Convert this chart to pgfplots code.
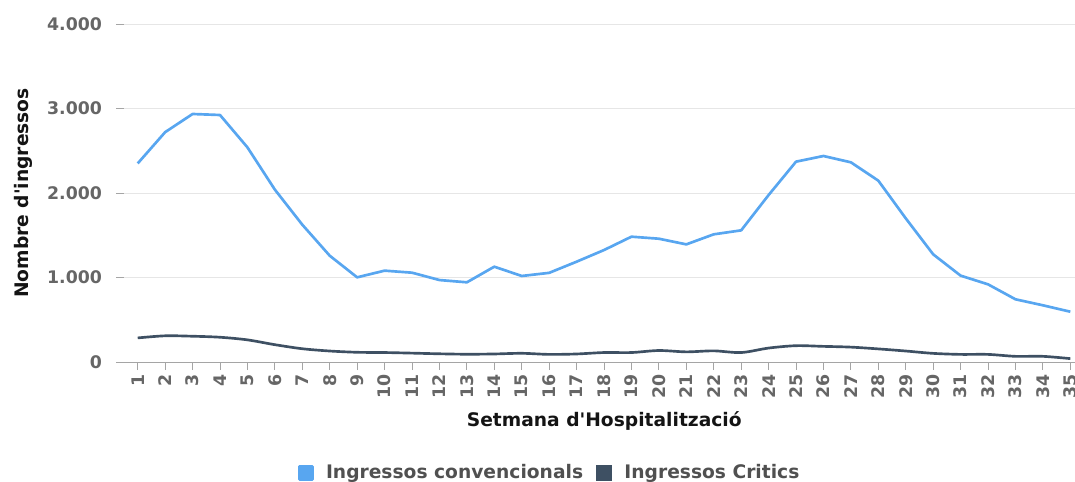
\documentclass[border=0pt]{standalone}
\usepackage{fontspec}
\setmainfont{DejaVu Sans}
\usepackage{pgfplots}
\pgfplotsset{compat=1.18}
\definecolor{conv}{RGB}{88,166,240}
\definecolor{crit}{RGB}{62,80,99}
\definecolor{tickgray}{RGB}{102,102,102}
\definecolor{gridgray}{RGB}{230,230,230}
\definecolor{axgray}{RGB}{165,165,165}
\definecolor{legtext}{RGB}{80,80,80}
\definecolor{titletext}{RGB}{20,20,20}

\pgfplotstableread{
w conv crit
1 2350 285
2 2720 310
3 2935 305
4 2923 293
5 2540 262
6 2040 205
7 1625 157
8 1258 130
9 1002 115
10 1081 112
11 1057 105
12 970 97
13 943 92
14 1128 95
15 1018 103
16 1055 90
17 1187 95
18 1325 112
19 1483 112
20 1459 136
21 1392 120
22 1511 132
23 1558 112
24 1976 165
25 2371 193
26 2438 185
27 2363 176
28 2146 155
29 1700 130
30 1274 102
31 1022 90
32 919 90
33 742 67
34 671 67
35 595 40
}\datatable

\begin{document}
\begin{tikzpicture}
\begin{axis}[
  scale only axis, width=713.25pt, height=253.5pt,
  xmin=0.5, xmax=35.17, ymin=0, ymax=4000,
  axis lines*=left,
  y axis line style={draw=none},
  x axis line style={draw=axgray, line width=0.75pt},
  tick align=outside,
  major tick length=6pt,
  tick style={draw=axgray, line width=0.75pt},
  xtick={1,...,35},
  ytick={0,1000,2000,3000,4000},
  ymajorgrids, grid style={gridgray, line width=0.75pt},
  scaled y ticks=false,
  yticklabel={\pgfmathprintnumber[assume math mode=true,1000 sep={.}]{\tick}},
  xticklabel={\pgfmathprintnumber[assume math mode=true]{\tick}},
  every tick label/.append style={font=\fontsize{13}{15}\selectfont\bfseries, text=tickgray},
  every axis x label/.style={at={(axis description cs:0.505,0)}, anchor=center, yshift=-44.5pt, font=\fontsize{14}{16}\selectfont\bfseries, text=titletext},
  every axis y label/.style={at={(axis description cs:0,0.5)}, xshift=-75.75pt, anchor=center, rotate=90, font=\fontsize{14}{16}\selectfont\bfseries, text=titletext},
  xlabel={Setmana d\textquotesingle Hospitalització},
  ylabel={Nombre d\textquotesingle ingressos},
  legend style={at={(axis description cs:0.448,-0.328)}, anchor=center, draw=none, fill=none,
    legend columns=2, font=\fontsize{14}{16}\selectfont\bfseries, text=legtext,
    /tikz/every even column/.append style={column sep=8pt}},
  legend cell align=left,
  every x tick label/.append style={rotate=90, anchor=east},
  every y tick label/.append style={xshift=-7pt},
]
\addplot[conv, line width=2pt, line join=round,
  legend image code/.code={\fill[conv] (0pt,-4.875pt) rectangle (9.75pt,4.875pt); \path (17pt,0pt);}]
  table[x=w, y=conv] {\datatable};
\addlegendentry{Ingressos convencionals}
\addplot[crit, line width=2pt, smooth,
  legend image code/.code={\fill[crit] (0pt,-4.875pt) rectangle (9.75pt,4.875pt); \path (17pt,0pt);}]
  table[x=w, y=crit] {\datatable};
\addlegendentry{Ingressos Critics}
\end{axis}
\pgfresetboundingbox
\path[use as bounding box] ([xshift=-93pt,yshift=-90pt]current axis.south west) rectangle ([yshift=18pt]current axis.north east);
\end{tikzpicture}
\end{document}
